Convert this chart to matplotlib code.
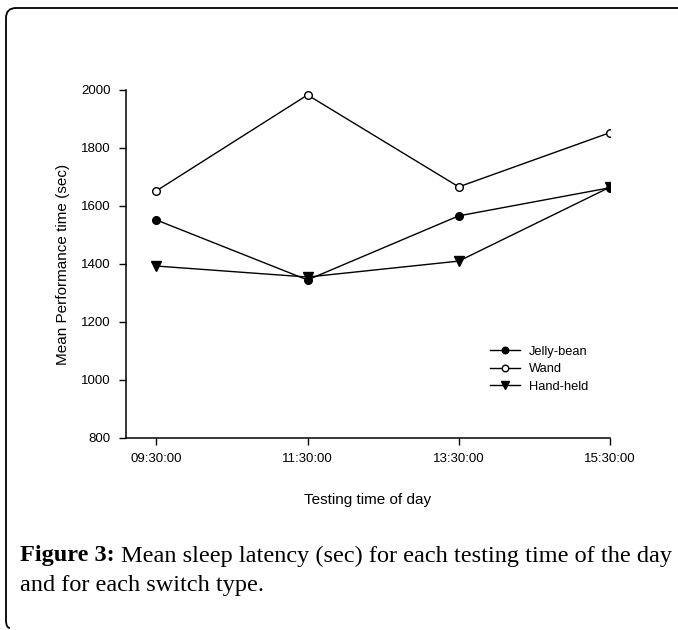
import matplotlib
matplotlib.use("Agg")
import matplotlib.pyplot as plt
from matplotlib.path import Path
from matplotlib.patches import PathPatch

times = ["09:30:00", "11:30:00", "13:30:00", "15:30:00"]
jelly_bean = [1552, 1345, 1566, 1663]
wand = [1652, 1983, 1666, 1853]
hand_held = [1393, 1355, 1410, 1665]
yticks = [800, 1000, 1200, 1400, 1600, 1800, 2000]

W, H = 678, 630
fig = plt.figure(figsize=(W / 100, H / 100), dpi=100)
plt.rcParams['font.family'] = ['Liberation Sans', 'DejaVu Sans']

ax = fig.add_axes([126 / W, 1 - 438 / H, (610 - 126) / W, (438 - 90) / H])
x = list(range(len(times)))
ax.plot(x, jelly_bean, color='black', lw=1, marker='o', ms=5.5,
        mfc='black', mec='black', label='Jelly-bean')
ax.plot(x, wand, color='black', lw=1, marker='o', ms=5.5,
        mfc='white', mec='black', mew=1, label='Wand')
ax.plot(x, hand_held, color='black', lw=1, marker='v', ms=6.5,
        mfc='black', mec='black', label='Hand-held')

ax.set_xlim(-0.2, 3)
ax.set_ylim(800, 2000)
ax.set_yticks(yticks)
ax.set_xticks(x)
ax.set_xticklabels(times)
for s in ['top', 'right']:
    ax.spines[s].set_visible(False)
for s in ['left', 'bottom']:
    ax.spines[s].set_linewidth(1.1)
ax.tick_params(direction='out', length=5, width=1, labelsize=9.5, pad=6)
ax.set_ylabel('Mean Performance time (sec)', fontsize=11, labelpad=8)
ax.set_xlabel('Testing time of day', fontsize=11, labelpad=20)

leg = ax.legend(loc='center left', bbox_to_anchor=(0.752, 0.198), frameon=False,
                fontsize=9.3, handlelength=2.3, handletextpad=0.7,
                labelspacing=0.42, borderpad=0, borderaxespad=0, markerscale=0.85)

# caption
fs = 16.5
r = fig.canvas.get_renderer()
t1 = fig.text(20 / W, 1 - 556 / H, 'Figure 3:', fontsize=fs, fontweight='bold',
              family=['Liberation Serif'], va='center', ha='left')
bb = t1.get_window_extent(renderer=r)
t2 = fig.text((bb.x1 + 6) / W, 1 - 556 / H,
              'Mean sleep latency (sec) for each testing time of the day',
              fontsize=fs, family=['Liberation Serif'], va='center', ha='left')
bb2 = t2.get_window_extent(renderer=r)
# scale so the first line ends near x=668 (justified)
scale = (668 - 20) / (bb2.x1 - 20)
fs2 = fs * scale
t1.set_fontsize(fs2)
bb = t1.get_window_extent(renderer=r)
t2.set_fontsize(fs2)
t2.set_x((bb.x1 + 6) / W)
fig.text(20 / W, 1 - 586 / H, 'and for each switch type.', fontsize=fs2,
         family=['Liberation Serif'], va='center', ha='left')

# border (top and left with rounded corner)
def px(xp, yp):
    return (xp / W, 1 - yp / H)
verts = [px(678, 8), px(16, 8), px(6, 8), px(6, 18), px(6, 620), px(6, 628), px(10, 628)]
codes = [Path.MOVETO, Path.LINETO, Path.CURVE3, Path.CURVE3, Path.LINETO,
         Path.CURVE3, Path.CURVE3]
fig.patches.append(PathPatch(Path(verts, codes), transform=fig.transFigure,
                             fill=False, lw=1.3, edgecolor='black'))

fig.savefig('out.png', dpi=100)
